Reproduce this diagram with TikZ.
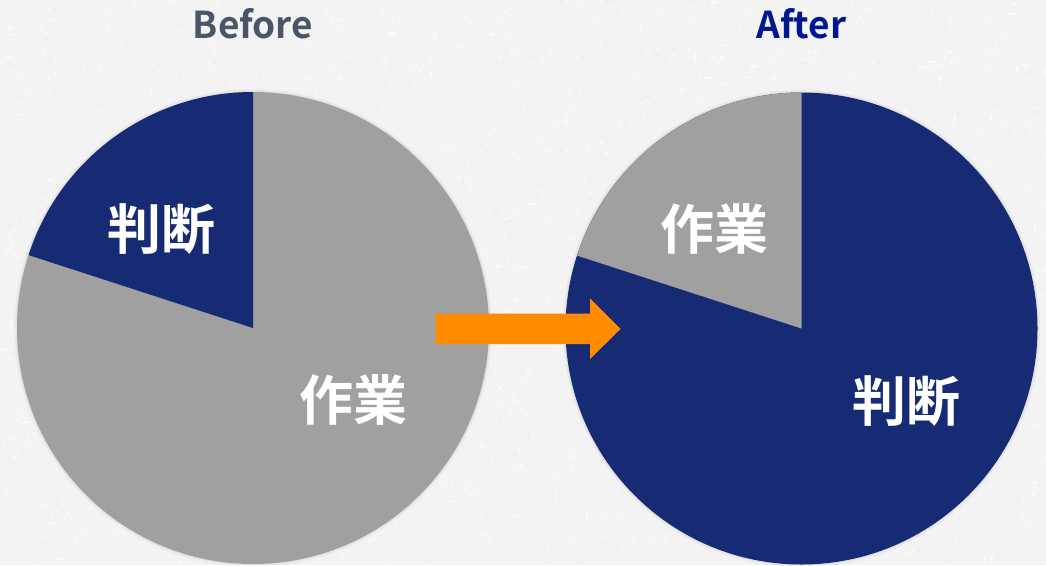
\documentclass[tikz,border=0pt]{standalone}
\usepackage{fontspec}
\setmainfont{Noto Sans CJK JP}[BoldFont={* Bold}]
\definecolor{bgc}{HTML}{F3F3F3}
\definecolor{navy}{HTML}{172B75}
\definecolor{pgray}{HTML}{A0A0A0}
\definecolor{orng}{HTML}{FF8C00}
\definecolor{befc}{HTML}{4A5568}
\definecolor{aftc}{HTML}{00188F}
\tikzset{
 x=1pt,y=-1pt,
 lbl/.style={font=\fontsize{54}{54}\selectfont\bfseries,text=white,inner sep=0pt},
 ttl/.style={font=\fontsize{37}{37}\selectfont\bfseries,inner sep=0pt},
 halo/.style={fill=black,opacity=0.025},
}
\begin{document}
\begin{tikzpicture}
\useasboundingbox (0,0) rectangle (1046,565);
\fill[bgc] (0,0) rectangle (1046,565);
% paper grain
\pgfmathsetseed{7}
\foreach \i in {1,...,2600}{
  \pgfmathsetmacro{\px}{random(0,1046)}
  \pgfmathsetmacro{\py}{random(0,565)}
  \pgfmathsetmacro{\qx}{\px+random(-7,7)}
  \pgfmathsetmacro{\qy}{\py+random(-7,7)}
  \draw[white,line width=1.1pt,opacity=0.55,line cap=round] (\px,\py) -- (\qx,\qy);
}
\foreach \i in {1,...,500}{
  \pgfmathsetmacro{\px}{random(0,1046)}
  \pgfmathsetmacro{\py}{random(0,565)}
  \pgfmathsetmacro{\qx}{\px+random(-5,5)}
  \pgfmathsetmacro{\qy}{\py+random(-5,5)}
  \draw[black,line width=0.7pt,opacity=0.03,line cap=round] (\px,\py) -- (\qx,\qy);
}
% left pie
\coordinate (lc) at (253,328);
\coordinate (rc) at (801.5,328.5);
\foreach \r in {239,238,237}{
  \fill[halo] (lc) circle[radius=\r];
  \fill[halo] (rc) circle[radius=\r];
}
\fill[pgray] (lc) circle[radius=236];
\fill[navy] (lc) -- (253,92) arc[start angle=-90,end angle=-162,radius=236] -- cycle;
% right pie
\fill[navy] (rc) circle[radius=236];
\fill[pgray] (rc) -- (801.5,92.5) arc[start angle=-90,end angle=-162,radius=236] -- cycle;
\node[ttl,text=befc] (before) at (253,24) {Before};
\node[ttl,text=aftc] (after) at (801.5,24) {After};
\node[lbl] (l1) at (161,229) {判断};
\node[lbl] (l2) at (353,400) {作業};
\node[lbl] (r1) at (714,229) {作業};
\node[lbl] (r2) at (906,401) {判断};
\fill[orng] (435.5,313.5) -- (590,313.5) -- (590,298.5) -- (620.5,329) -- (590,359) -- (590,344) -- (435.5,344) -- cycle;
\end{tikzpicture}
\end{document}
